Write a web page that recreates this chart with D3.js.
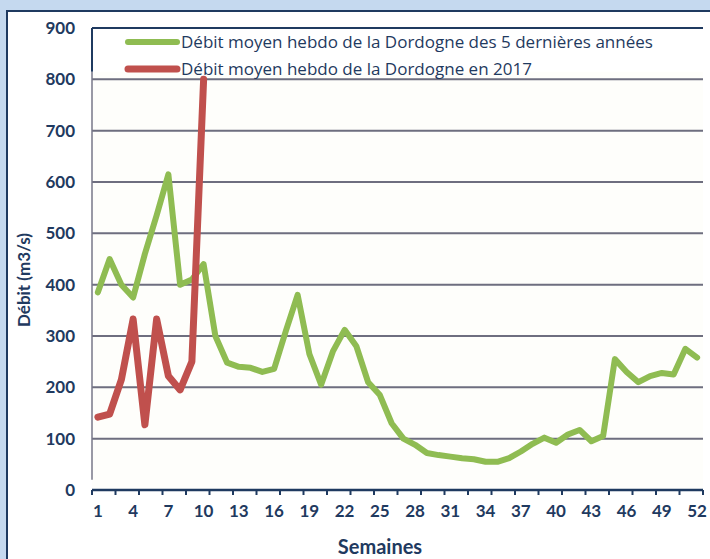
<!DOCTYPE html>
<html lang="fr">
<head>
    <meta charset="UTF-8">
    <title>Débit Dordogne</title>
    <style>
        body { margin: 0; background: #c5d9ef; }
        svg { display: block; }
        text { font-family: Lato, "Open Sans", sans-serif; fill: #1f3a60; }
        .leg { font-family: "Open Sans", sans-serif; }
    </style>
</head>
<body>
    <script src="https://cdn.jsdelivr.net/npm/d3@7"></script>
    <script>
        // semaines 1..52
        var semaines = d3.range(1, 53);
        // débit moyen hebdo des 5 dernières années (m3/s)
        var moyenne5 = [385, 450, 400, 375, 460, 535, 615, 400, 410, 440,
                        300, 248, 240, 238, 230, 236, 310, 380, 265, 205,
                        270, 312, 280, 210, 185, 130, 100, 88, 72, 68,
                        65, 62, 60, 55, 55, 62, 75, 90, 102, 92,
                        108, 117, 95, 105, 255, 230, 210, 222, 228, 225,
                        275, 258];
        // débit moyen hebdo 2017 (10 premières semaines)
        var annee2017 = [142, 148, 215, 333, 127, 333, 222, 195, 250, 800];
        var yTicks = [0, 100, 200, 300, 400, 500, 600, 700, 800, 900];
        var xLabels = d3.range(1, 53, 3);
        var legende = ["Débit moyen hebdo de la Dordogne des 5 dernières années",
                       "Débit moyen hebdo de la Dordogne en 2017"];
        var couleurs = ["#8fbc52", "#c0504d"];
        var epaisseurs = [6, 7];

        var W = 710, H = 559;
        var m = { left: 92, right: 7, top: 28, bottom: 69 };

        var svg = d3.select('body').append('svg').attr('width', W).attr('height', H);

        // cadre blanc
        svg.append('rect').attr('x', 7).attr('y', 11).attr('width', W).attr('height', H)
            .attr('fill', '#fff').attr('stroke', '#1f3a60').attr('stroke-width', 2);

        var x = d3.scaleBand().domain(semaines).range([m.left, W - m.right]);
        var y = d3.scaleLinear().domain([0, 900]).range([H - m.bottom, m.top]);

        // fond du graphique
        svg.append('rect').attr('x', m.left).attr('y', y(815))
            .attr('width', W - m.right - m.left).attr('height', y(0) - y(815))
            .attr('fill', '#fefefb');

        // grille
        svg.append('g').selectAll('line').data(yTicks.filter(function (d) { return d > 0 && d < 900; }))
            .enter().append('line')
            .attr('x1', m.left).attr('x2', W - m.right)
            .attr('y1', function (d) { return y(d); }).attr('y2', function (d) { return y(d); })
            .attr('stroke', '#55566a').attr('stroke-width', 2).attr('opacity', 0.85);

        // bordure haut / gauche
        svg.append('line').attr('x1', m.left).attr('x2', W - m.right)
            .attr('y1', y(900)).attr('y2', y(900)).attr('stroke', '#1f3a60').attr('stroke-width', 2);
        svg.append('line').attr('x1', m.left).attr('x2', m.left)
            .attr('y1', y(900)).attr('y2', y(815)).attr('stroke', '#1f3a60').attr('stroke-width', 2);
        svg.append('line').attr('x1', m.left).attr('x2', m.left)
            .attr('y1', y(815)).attr('y2', y(20)).attr('stroke', '#777788').attr('stroke-width', 1.5);

        // axe x
        var ax = svg.append('g').attr('transform', 'translate(0,' + y(0) + ')');
        ax.append('line').attr('x1', m.left).attr('x2', W - m.right)
            .attr('stroke', '#1f3a60').attr('stroke-width', 2.5);
        ax.selectAll('.tk').data(semaines.filter(function (d) { return d % 2 === 1; }).concat([53]))
            .enter().append('line')
            .attr('x1', function (d) { return d === 53 ? W - m.right : x(d); })
            .attr('x2', function (d) { return d === 53 ? W - m.right : x(d); })
            .attr('y1', 0).attr('y2', 5).attr('stroke', '#1f3a60').attr('stroke-width', 2);
        ax.selectAll('text').data(xLabels).enter().append('text')
            .attr('x', function (d) { return x(d) + x.bandwidth() / 2; })
            .attr('y', 27).attr('text-anchor', 'middle')
            .attr('font-size', 17).attr('font-weight', 'bold')
            .text(function (d) { return d; });

        // axe y
        svg.append('g').selectAll('text').data(yTicks).enter().append('text')
            .attr('x', 75).attr('y', function (d) { return y(d) + 6; })
            .attr('text-anchor', 'end').attr('font-size', 17).attr('font-weight', 'bold')
            .text(function (d) { return d; });

        // titres d'axes
        svg.append('text').attr('x', 380).attr('y', 554).attr('text-anchor', 'middle')
            .attr('font-size', 20).attr('font-weight', 'bold').text('Semaines');
        svg.append('text').attr('transform', 'translate(30,280) rotate(-90)')
            .attr('text-anchor', 'middle').attr('font-size', 17).attr('font-weight', 'bold')
            .text('Débit (m3/s)');

        // courbes
        var line = d3.line()
            .x(function (d, i) { return x(semaines[i]) + x.bandwidth() / 2; })
            .y(function (d) { return y(d); });

        [moyenne5, annee2017].forEach(function (serie, k) {
            svg.append('path').datum(serie)
                .attr('d', line)
                .attr('fill', 'none')
                .attr('stroke', couleurs[k])
                .attr('stroke-width', epaisseurs[k])
                .attr('stroke-linejoin', 'round')
                .attr('stroke-linecap', 'round');
        });

        // légende
        var lg = svg.append('g').selectAll('g').data(legende).enter().append('g')
            .attr('transform', function (d, i) { return 'translate(128,' + (42 + i * 27) + ')'; });
        lg.append('line').attr('x1', 0).attr('x2', 49)
            .attr('stroke', function (d, i) { return couleurs[i]; })
            .attr('stroke-width', function (d, i) { return epaisseurs[i]; })
            .attr('stroke-linecap', 'round');
        lg.append('text').attr('class', 'leg').attr('x', 53).attr('y', 6).attr('font-size', 17)
            .text(function (d) { return d; });
    </script>
</body>
</html>
